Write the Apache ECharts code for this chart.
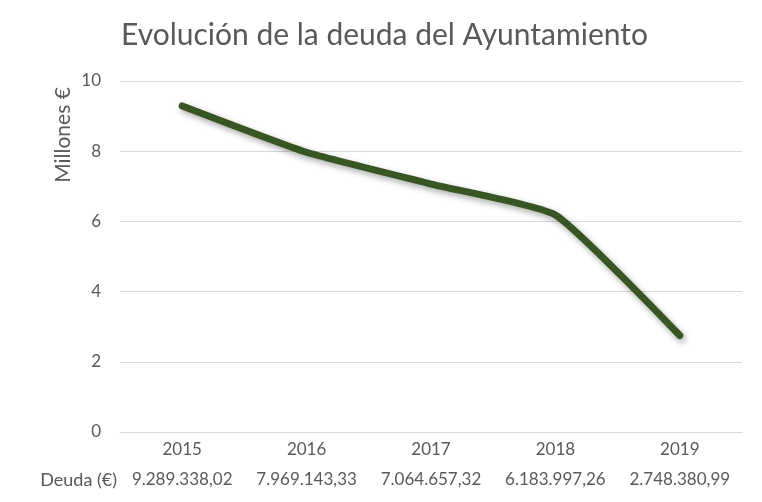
<!DOCTYPE html>
<html>
<head>
<meta charset="utf-8">
<script src="https://cdn.jsdelivr.net/npm/echarts@6/dist/echarts.min.js"></script>
<style>html,body{margin:0;padding:0;background:#fff}#c{width:762px;height:502px}</style>
</head>
<body>
<div id="c"></div>
<script>
var years = ['2015', '2016', '2017', '2018', '2019'];
var deudaEuros = [9289338.02, 7969143.33, 7064657.32, 6183997.26, 2748380.99];
var yTicks = [0, 2, 4, 6, 8, 10];

function fmtES(v) {
  var parts = v.toFixed(2).split('.');
  var ent = parts[0].replace(/\B(?=(\d{3})+(?!\d))/g, '.');
  return ent + ',' + parts[1];
}
var millones = deudaEuros.map(function (v) { return v / 1e6; });
var tableLabels = deudaEuros.map(fmtES);

var FONT = 'Lato';
var GREY = '#595959';
var chart = echarts.init(document.getElementById('c'));
chart.setOption({
  backgroundColor: '#fff',
  animation: false,
  title: {
    text: 'Evolución de la deuda del Ayuntamiento',
    left: 116, top: 15,
    textStyle: { fontFamily: FONT, fontSize: 30, fontWeight: 'normal', color: GREY }
  },
  grid: { left: 120, right: 20, top: 81, bottom: 70 },
  graphic: [{
    type: 'text', x: 63, y: 135, rotation: Math.PI / 2,
    style: { text: 'Millones €', fontFamily: FONT, fontSize: 21, fill: GREY, align: 'center', verticalAlign: 'middle' }
  }],
  xAxis: [{
    type: 'category', data: years, position: 'bottom',
    axisLine: { show: true, lineStyle: { color: '#d9d9d9', width: 1 } },
    axisTick: { show: false },
    axisLabel: { fontFamily: FONT, fontSize: 17, color: GREY, margin: 9, interval: 0 }
  }, {
    type: 'category', data: tableLabels, position: 'bottom', offset: 48,
    axisLine: { show: false }, axisTick: { show: false },
    axisLabel: { fontFamily: FONT, fontSize: 17, color: GREY, margin: 0, verticalAlign: 'middle', interval: 0, hideOverlap: false },
    name: 'Deuda (€)', nameLocation: 'start', nameGap: 3,
    nameTextStyle: { fontFamily: FONT, fontSize: 18, color: GREY, align: 'right', verticalAlign: 'middle' }
  }],
  yAxis: {
    type: 'value', min: yTicks[0], max: yTicks[yTicks.length - 1], interval: 2,
    axisLine: { show: false }, axisTick: { show: false },
    splitLine: { lineStyle: { color: '#d9d9d9', width: 1 } },
    axisLabel: { fontFamily: FONT, fontSize: 17, color: GREY, margin: 19 }
  },
  series: [{
    type: 'line', data: millones, xAxisIndex: 0, smooth: 0.15,
    symbol: 'none',
    lineStyle: {
      color: '#375623', width: 7, cap: 'round', join: 'round',
      shadowColor: 'rgba(0,0,0,0.35)', shadowBlur: 6, shadowOffsetX: 2, shadowOffsetY: 3
    }
  }]
});
</script>
</body>
</html>
